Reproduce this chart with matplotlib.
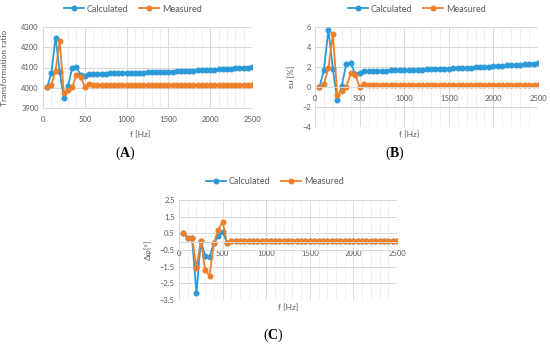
import matplotlib
matplotlib.use("Agg")
import matplotlib.pyplot as plt
from matplotlib.ticker import MultipleLocator
import numpy as np

plt.rcParams['font.family'] = ['Lato', 'DejaVu Sans']
plt.rcParams['mathtext.fontset'] = 'custom'
plt.rcParams['mathtext.bf'] = 'Liberation Serif:bold'
plt.rcParams['mathtext.rm'] = 'Liberation Serif'

# frequencies 50..2500 Hz
freq = np.arange(50, 2550, 50)

# (A) transformation ratio
ratio_calc = [4003, 4072, 4248, 4078, 3950, 4008, 4100, 4103, 4062, 4060,
              4068, 4069, 4069, 4070, 4070, 4071, 4071, 4072, 4072, 4073,
              4073, 4074, 4075, 4075, 4076, 4077, 4077, 4078, 4079, 4080,
              4080, 4081, 4082, 4083, 4084, 4085, 4086, 4087, 4088, 4089,
              4090, 4091, 4092, 4094, 4095, 4096, 4097, 4099, 4100, 4102]
ratio_meas = [4003, 4015, 4085, 4230, 3972, 3990, 4005, 4062, 4055, 4005,
              4020] + [4012] * 39

# (B) ratio error eu [%]
eu_calc = [0.0, 1.7, 5.75, 1.8, -1.3, 0.1, 2.3, 2.45, 1.3, 1.4,
           1.60, 1.61, 1.62, 1.63, 1.64, 1.65, 1.66, 1.67, 1.68, 1.69,
           1.70, 1.72, 1.73, 1.75, 1.76, 1.78, 1.79, 1.81, 1.83, 1.85,
           1.87, 1.89, 1.91, 1.93, 1.95, 1.97, 2.00, 2.02, 2.05, 2.07,
           2.10, 2.13, 2.16, 2.19, 2.22, 2.25, 2.28, 2.31, 2.35, 2.39]
eu_meas = [0.0, 0.3, 1.9, 5.3, -0.8, -0.4, 0.0, 1.4, 1.2, 0.05,
           0.35] + [0.2] * 39

# (C) phase displacement
dphi_calc = [0.55, 0.2, 0.2, -3.1, 0.05, -0.85, -0.9, -0.1, 0.35, 0.6,
             -0.05] + [0.05] * 39
dphi_meas = [0.55, 0.2, 0.2, -1.55, 0.05, -1.7, -2.05, -0.1, 0.7, 1.2,
             -0.05] + [0.05] * 39

BLUE = '#2a9ad8'
ORANGE = '#f07f2a'
TXT = '#595959'
W, H = 550, 345

fig = plt.figure(figsize=(W / 100, H / 100), dpi=100)


def px_axes(x0, y0, x1, y1):
    return fig.add_axes([x0 / W, 1 - y1 / H, (x1 - x0) / W, (y1 - y0) / H])


def style(ax, ymin, ymax, ystep, cross_zero):
    ax.set_xlim(0, 2500)
    ax.set_ylim(ymin, ymax)
    ax.xaxis.set_major_locator(MultipleLocator(500))
    ax.xaxis.set_minor_locator(MultipleLocator(100))
    ax.set_yticks(np.arange(ymin, ymax + ystep / 2, ystep))
    ax.grid(True, which='major', color='#d9d9d9', lw=0.7)
    ax.grid(True, which='minor', axis='x', color='#efefef', lw=0.6)
    ax.set_axisbelow(True)
    for s in ['top', 'right', 'left']:
        ax.spines[s].set_visible(False)
    ax.spines['bottom'].set_color('#d9d9d9')
    ax.spines['bottom'].set_linewidth(0.7)
    if cross_zero:
        ax.spines['bottom'].set_position(('data', 0))
    ax.tick_params(which='both', length=0, labelsize=5.5, colors=TXT)
    ax.tick_params(axis='x', pad=6)
    ax.tick_params(axis='y', pad=3)


def draw(ax, calc, meas):
    ax.plot(freq, calc, '-o', color=BLUE, lw=1.3, ms=3.3, label='Calculated')
    ax.plot(freq, meas, '-o', color=ORANGE, lw=1.3, ms=3.3, label='Measured')


def legend(ax, cx, cy):
    h, l = ax.get_legend_handles_labels()
    fig.legend(h, l, loc='center', bbox_to_anchor=(cx / W, 1 - cy / H), ncol=2,
               frameon=False, fontsize=6.5, labelcolor=TXT, handlelength=2.2,
               handletextpad=0.3, columnspacing=1.2, borderaxespad=0)


def panel_label(letter, cx, cy):
    fig.text(cx / W, 1 - cy / H, '(' + r'$\mathbf{' + letter + '}$' + ')',
             ha='center', va='center', fontsize=10, family='Liberation Serif')


# (A)
axA = px_axes(43, 27, 252, 108)
draw(axA, ratio_calc, ratio_meas)
style(axA, 3900, 4300, 100, False)
axA.set_ylabel('Transformation ratio', fontsize=6, color=TXT)
axA.yaxis.set_label_coords(-0.167, 0.5)
legend(axA, 133, 9)
fig.text(140 / W, 1 - 135 / H, 'f [Hz]', ha='center', va='center', fontsize=6, color=TXT)
panel_label('A', 125, 153)

# (B)
axB = px_axes(315, 27, 538, 127)
draw(axB, eu_calc, eu_meas)
style(axB, -4, 6, 2, True)
axB.set_ylabel('εu [%]', fontsize=6, color=TXT)
axB.yaxis.set_label_coords(-0.09, 0.5)
legend(axB, 417, 9)
fig.text(409 / W, 1 - 135 / H, 'f [Hz]', ha='center', va='center', fontsize=6, color=TXT)
panel_label('B', 395, 153)

# (C)
axC = px_axes(179, 200, 397, 300)
draw(axC, dphi_calc, dphi_meas)
style(axC, -3.5, 2.5, 1, True)
axC.set_ylabel('Δφ[°]', fontsize=6, color=TXT)
axC.yaxis.set_label_coords(-0.124, 0.5)
legend(axC, 275, 182)
fig.text(288 / W, 1 - 308 / H, 'f [Hz]', ha='center', va='center', fontsize=6, color=TXT)
panel_label('C', 273, 335)

fig.savefig('out.png', dpi=100)
